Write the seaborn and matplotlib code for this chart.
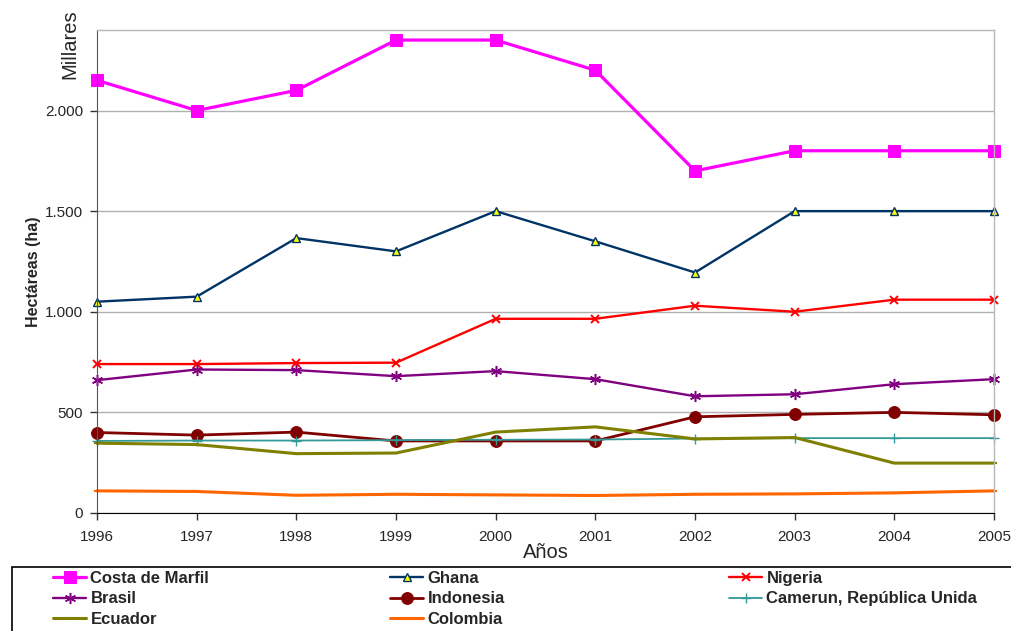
import matplotlib
matplotlib.use("Agg")
import matplotlib.pyplot as plt
import matplotlib.ticker as mticker
from matplotlib.patches import Rectangle
import seaborn as sns

# Data (thousands of hectares)
years = [1996, 1997, 1998, 1999, 2000, 2001, 2002, 2003, 2004, 2005]
costa_de_marfil = [2150, 2000, 2100, 2350, 2350, 2200, 1700, 1800, 1800, 1800]
ghana = [1050, 1075, 1366, 1300, 1500, 1350, 1195, 1500, 1500, 1500]
nigeria = [740, 740, 745, 747, 965, 965, 1030, 1000, 1060, 1060]
brasil = [660, 713, 710, 680, 705, 665, 580, 590, 640, 665]
indonesia = [400, 387, 402, 358, 358, 358, 478, 490, 500, 488]
camerun = [358, 360, 360, 362, 364, 365, 370, 372, 372, 372]
ecuador = [347, 340, 295, 298, 402, 428, 368, 375, 248, 248]
colombia = [110, 107, 88, 93, 90, 87, 93, 95, 100, 110]

sns.set_style("white")
plt.rcParams['font.family'] = ['Liberation Sans', 'DejaVu Sans']

fig = plt.figure(figsize=(10.11, 6.31), dpi=100)
ax = fig.add_axes([97 / 1011, 1 - 513 / 631, 897 / 1011, 483 / 631])

series = [
    ("Costa de Marfil", costa_de_marfil, "#FF00FF",
     dict(marker="s", markersize=8.5, linewidth=2.3)),
    ("Ghana", ghana, "#003366",
     dict(marker="^", markersize=6, markerfacecolor="#FFFF00", markeredgewidth=1, linewidth=1.7)),
    ("Nigeria", nigeria, "#FF0000",
     dict(marker="x", markersize=6, markeredgewidth=1.4, linewidth=1.7)),
    ("Brasil", brasil, "#800080",
     dict(marker=(6, 2, 0), markersize=8, markeredgewidth=1.1, linewidth=1.7)),
    ("Indonesia", indonesia, "#800000",
     dict(marker="o", markersize=8.5, linewidth=2)),
    ("Camerun, República Unida", camerun, "#339999",
     dict(marker="+", markersize=7, markeredgewidth=1, linewidth=1.3)),
    ("Ecuador", ecuador, "#808000",
     dict(marker="_", markersize=5, markeredgewidth=1.5, linewidth=2.2)),
    ("Colombia", colombia, "#FF6600",
     dict(marker="_", markersize=5, markeredgewidth=1.5, linewidth=2.2)),
]

handles = {}
for name, vals, col, style in series:
    sns.lineplot(x=years, y=vals, ax=ax, label=name, color=col,
                 markeredgecolor=col, clip_on=False, **style)
    handles[name] = ax.get_lines()[-1]
ax.get_legend().remove()

ax.set_xlim(1996, 2005)
ax.set_ylim(0, 2400)
ax.set_xticks(years)
ax.set_yticks([0, 500, 1000, 1500, 2000])
ax.yaxis.set_major_formatter(mticker.FuncFormatter(lambda v, p: f"{int(v):,}".replace(",", ".")))
ax.tick_params(axis="both", which="major", direction="out", length=5, width=1,
               labelsize=11, color="#333333", bottom=True, left=True, pad=5)
ax.tick_params(axis="x", pad=7)
ax.grid(axis="y", color="#b0b0b0", linewidth=1)
ax.set_axisbelow(True)
for side in ["top", "right"]:
    ax.spines[side].set_color("#b8b8b8")
    ax.spines[side].set_linewidth(1)
ax.spines["left"].set_color("#555555")
ax.spines["bottom"].set_color("#000000")

ax.set_xlabel("Años", fontsize=14.5)
ax.xaxis.set_label_coords(0.5, -0.063)
ax.set_ylabel("Hectáreas (ha)", fontsize=11.5, fontweight="bold")
ax.yaxis.set_label_coords(-0.062, 0.5)
fig.text(70 / 1011, 1 - 44 / 631, "Millares", rotation=90, fontsize=14.5, ha="center", va="center")

# Legend frame (runs off the bottom of the figure, as in the reference)
fig.patches.append(Rectangle((12 / 1011, -0.05), 1.0, 1 - 567 / 631 + 0.05,
                             transform=fig.transFigure, fill=False, edgecolor="#000000", linewidth=1.2))
columns = [
    (53, ["Costa de Marfil", "Brasil", "Ecuador"]),
    (390, ["Ghana", "Indonesia", "Colombia"]),
    (729, ["Nigeria", "Camerun, República Unida"]),
]
for x0, names in columns:
    fig.legend([handles[n] for n in names], names, loc="upper left",
               bbox_to_anchor=(x0 / 1011, 1 - 571 / 631), frameon=False,
               borderpad=0, borderaxespad=0, handlelength=2.0, handletextpad=0.25,
               labelspacing=0.32, prop={"size": 12, "weight": "bold"})

fig.savefig("out.png", dpi=100)
